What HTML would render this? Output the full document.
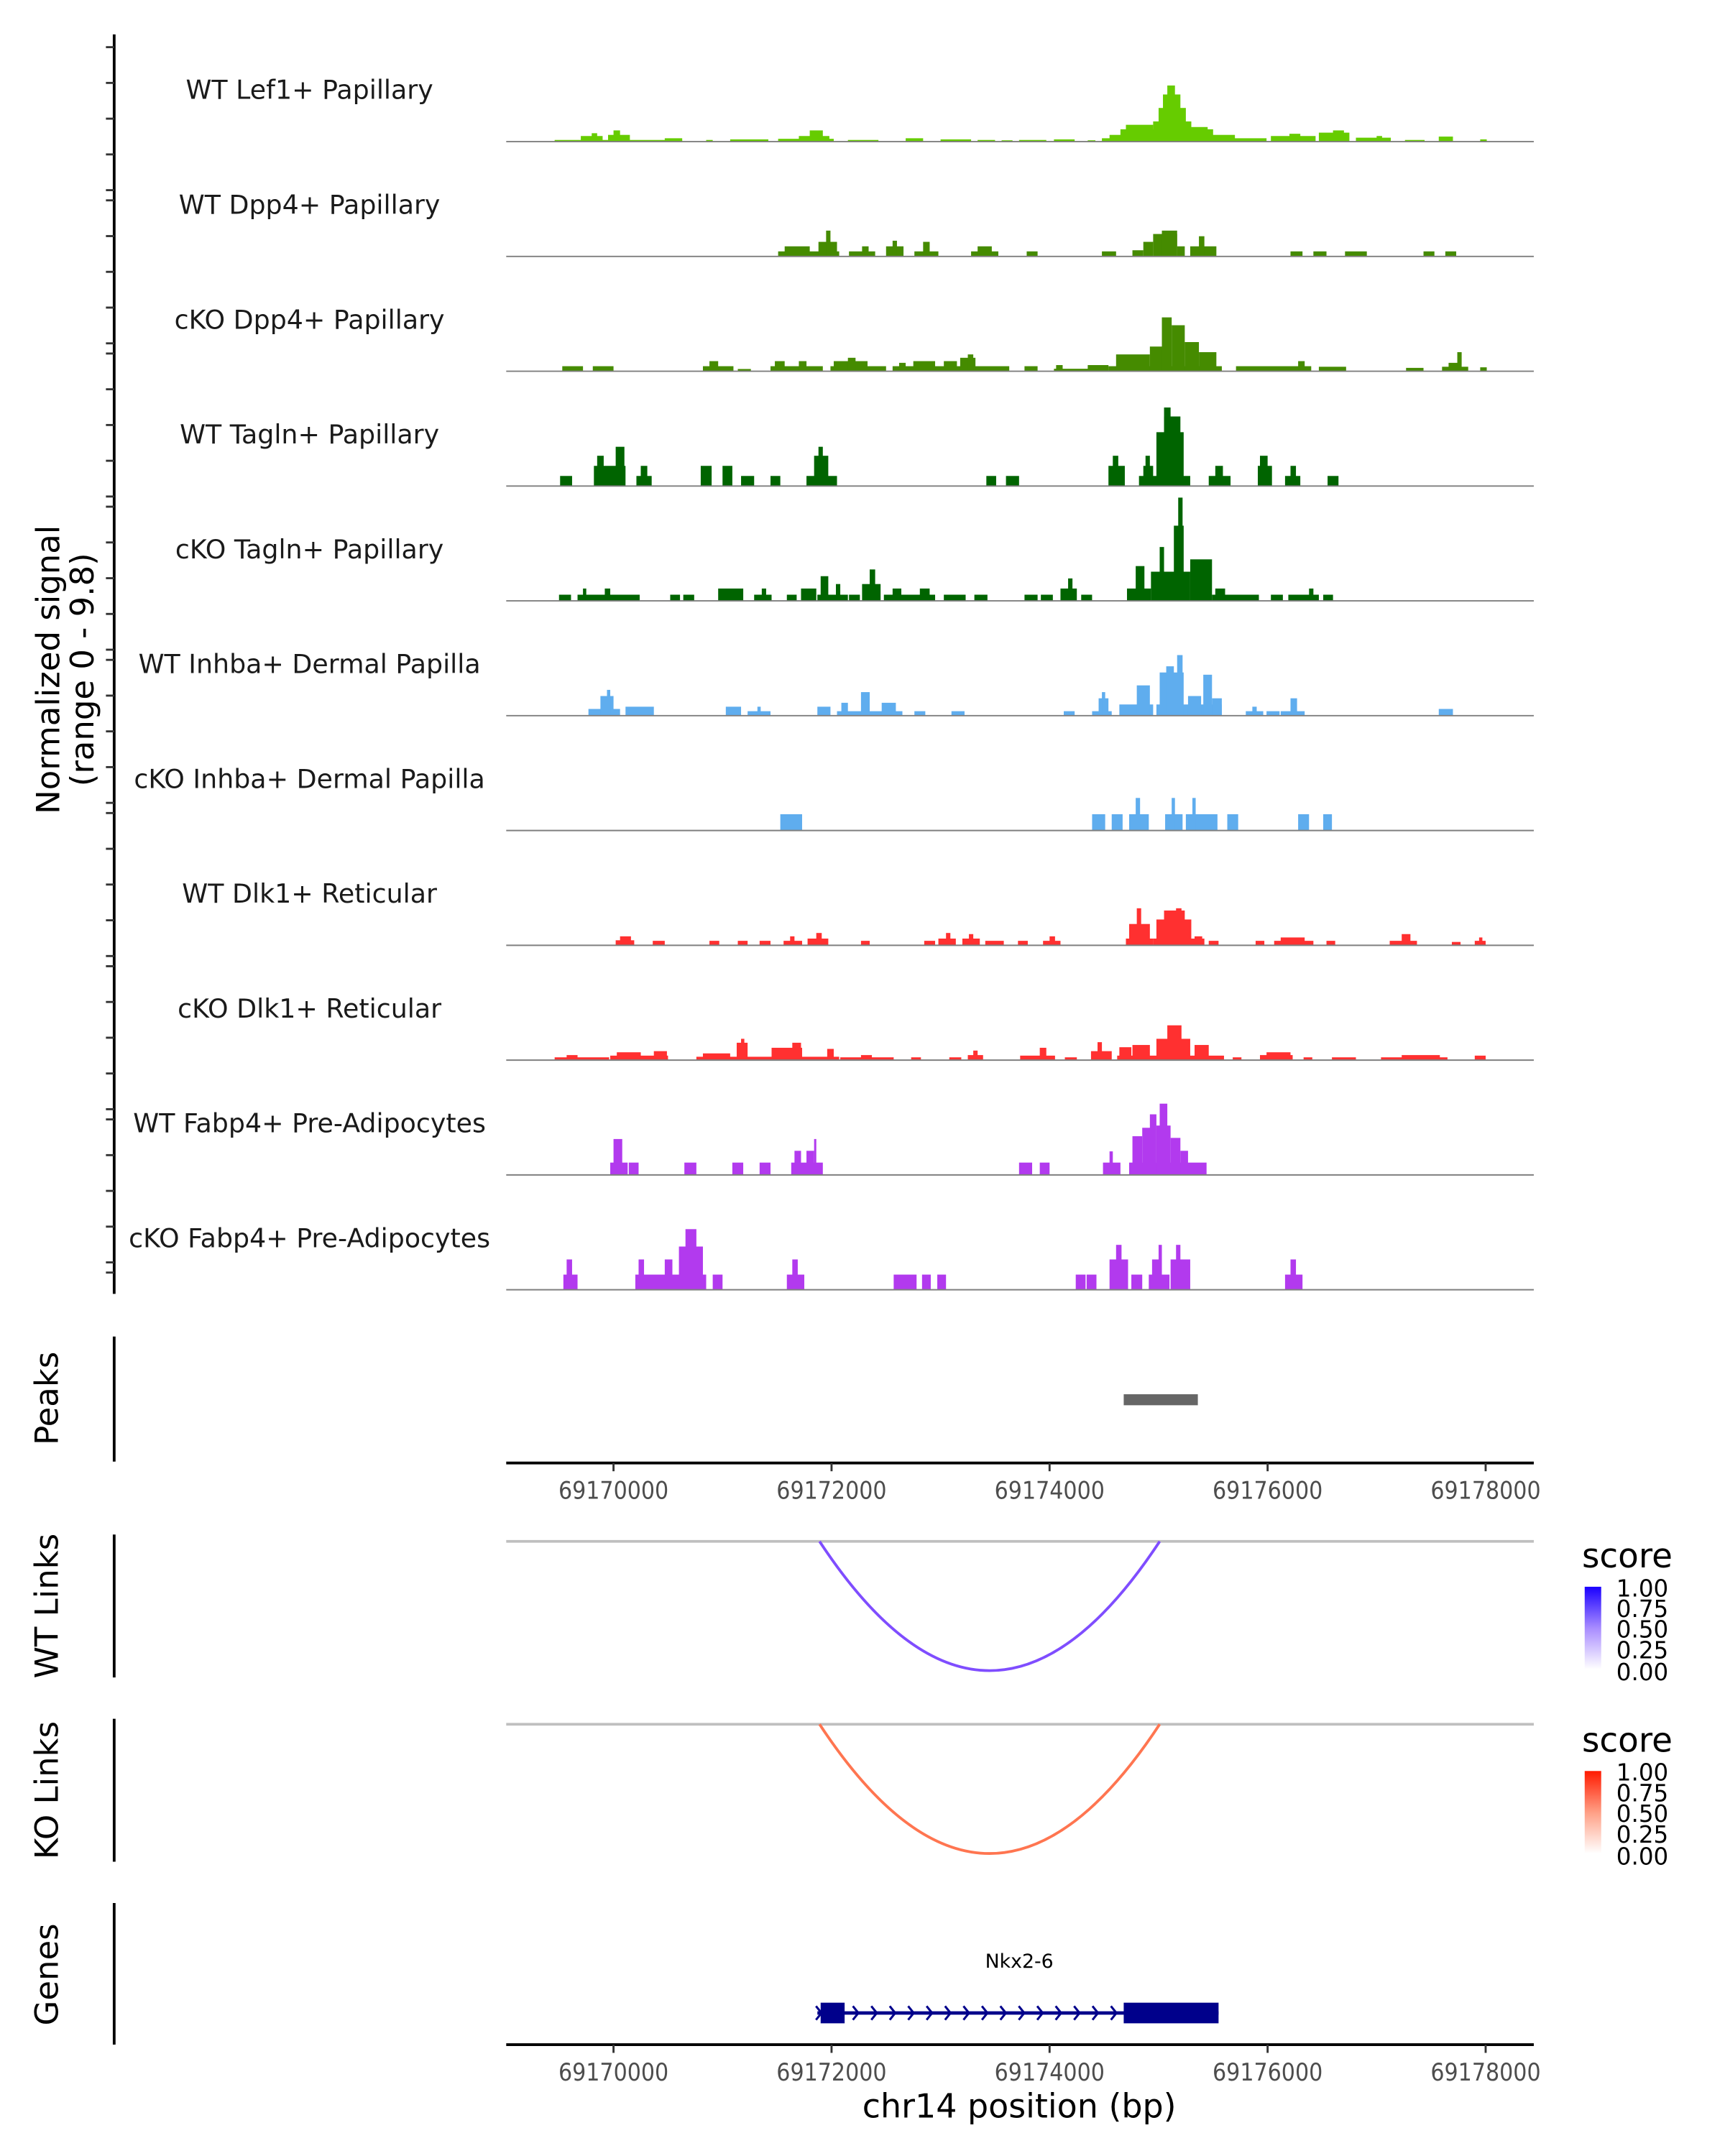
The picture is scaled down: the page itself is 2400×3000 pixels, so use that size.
<!DOCTYPE html>
<html><head><meta charset="utf-8">
<style>
html,body{margin:0;padding:0;background:#fff;}
svg{display:block;}
text{font-family:"DejaVu Sans","Liberation Sans",sans-serif;}
text.tick{font-family:"DejaVu Sans Condensed","DejaVu Sans","Liberation Sans Narrow","Liberation Sans",sans-serif;}
</style></head>
<body>
<svg id="fig" xmlns="http://www.w3.org/2000/svg" width="2400" height="3000" viewBox="0 0 1254 1568" preserveAspectRatio="none">
  <rect x="0" y="0" width="1254" height="1568" fill="#fff"/>
  <g id="tracks"></g>
  <g id="yaxis"></g>
  <text transform="translate(43,487) rotate(-90)" font-size="23.5" text-anchor="middle" fill="#000">Normalized signal</text>
  <text transform="translate(68,487) rotate(-90)" font-size="23.5" text-anchor="middle" fill="#000">(range 0 - 9.8)</text>

  <line x1="83" y1="972" x2="83" y2="1063" stroke="#000" stroke-width="2"/>
  <text transform="translate(42,1017) rotate(-90)" font-size="23.5" text-anchor="middle">Peaks</text>
  <g id="peaks"></g>
  <g id="xaxis1"></g>

  <line x1="83" y1="1116" x2="83" y2="1220" stroke="#000" stroke-width="2"/>
  <text transform="translate(42,1168) rotate(-90)" font-size="23.5" text-anchor="middle">WT Links</text>
  <line x1="368" y1="1121" x2="1115" y2="1121" stroke="#bfbfbf" stroke-width="2"/>
  <g id="wtlinks"></g>

  <line x1="83" y1="1250" x2="83" y2="1354" stroke="#000" stroke-width="2"/>
  <text transform="translate(42,1302) rotate(-90)" font-size="23.5" text-anchor="middle">KO Links</text>
  <line x1="368" y1="1254" x2="1115" y2="1254" stroke="#bfbfbf" stroke-width="2"/>
  <g id="kolinks"></g>

  <defs>
    <linearGradient id="gblue" x1="0" y1="1" x2="0" y2="0">
      <stop offset="0" stop-color="#ffffff"/><stop offset="0.5" stop-color="#a88cff"/><stop offset="1" stop-color="#1a00ff"/>
    </linearGradient>
    <linearGradient id="gred" x1="0" y1="1" x2="0" y2="0">
      <stop offset="0" stop-color="#ffffff"/><stop offset="0.5" stop-color="#ff9f85"/><stop offset="1" stop-color="#ff1a00"/>
    </linearGradient>
  </defs>
  <g>
    <text x="1150" y="1140" font-size="24.5">score</text>
    <rect x="1152" y="1154" width="12" height="60" fill="url(#gblue)"/>
    <g font-size="17"><text x="1175" y="1161">1.00</text><text x="1175" y="1176">0.75</text><text x="1175" y="1191">0.50</text><text x="1175" y="1206">0.25</text><text x="1175" y="1222">0.00</text></g>
  </g>
  <g>
    <text x="1150" y="1274" font-size="24.5">score</text>
    <rect x="1152" y="1288" width="12" height="60" fill="url(#gred)"/>
    <g font-size="17"><text x="1175" y="1295">1.00</text><text x="1175" y="1310">0.75</text><text x="1175" y="1325">0.50</text><text x="1175" y="1340">0.25</text><text x="1175" y="1356">0.00</text></g>
  </g>

  <line x1="83" y1="1384" x2="83" y2="1487" stroke="#000" stroke-width="2"/>
  <text transform="translate(42,1436) rotate(-90)" font-size="23.5" text-anchor="middle">Genes</text>
  <g id="genes"></g>
  <g id="xaxis2"></g>
  <text x="741" y="1540" font-size="24" text-anchor="middle">chr14 position (bp)</text>
</svg>
<script>
const NS="http://www.w3.org/2000/svg";
const ORIGIN=69170000;
const trackNames=["WT Lef1+ Papillary","WT Dpp4+ Papillary","cKO Dpp4+ Papillary","WT Tagln+ Papillary","cKO Tagln+ Papillary","WT Inhba+ Dermal Papilla","cKO Inhba+ Dermal Papilla","WT Dlk1+ Reticular","cKO Dlk1+ Reticular","WT Fabp4+ Pre-Adipocytes","cKO Fabp4+ Pre-Adipocytes"];
const trackColors=["#66cc00","#458b00","#458b00","#006400","#006400","#5fadee","#5fadee","#ff3030","#ff3030","#b23aee","#b23aee"];
const xTicks=[69170000,69172000,69174000,69176000,69178000];
// blocks: [start kb offset from ORIGIN, end kb, signal value]
const wtLef1=[[-0.54,0.63,0.15],[-0.30,-0.10,0.5],[-0.2,-0.15,0.75],[-0.05,0.15,0.6],[0.0,0.06,1.0],[0.47,0.63,0.3],[0.85,0.91,0.15],[1.07,1.42,0.2],[1.51,2.02,0.25],[1.7,1.98,0.5],[1.8,1.92,1.0],[2.15,2.43,0.15],[2.68,2.84,0.3],[3.0,3.28,0.2],[3.34,3.5,0.15],[3.56,3.66,0.12],[3.72,3.97,0.15],[4.04,4.23,0.2],[4.35,4.42,0.12],[4.48,5.99,0.3],[4.55,5.7,0.6],[4.65,5.5,1.1],[4.7,4.95,1.5],[4.95,5.3,1.8],[5.0,5.25,3.0],[5.04,5.2,4.2],[5.08,5.15,5.0],[5.3,5.45,1.3],[6.03,6.44,0.5],[6.2,6.3,0.7],[6.47,6.75,0.8],[6.6,6.7,1.0],[6.81,7.13,0.35],[7.0,7.05,0.5],[7.26,7.44,0.15],[7.57,7.7,0.45],[7.95,8.01,0.2]];
const wtDpp4=[[1.51,2.07,0.45],[1.57,1.80,0.9],[1.88,2.05,1.3],[1.95,1.99,2.3],[2.16,2.40,0.45],[2.28,2.34,0.9],[2.50,2.66,0.9],[2.56,2.60,1.4],[2.76,2.98,0.45],[2.84,2.90,1.3],[3.28,3.53,0.45],[3.34,3.47,0.9],[3.79,3.89,0.45],[4.48,4.61,0.45],[4.76,4.86,0.55],[4.86,4.95,1.3],[4.95,5.17,2.0],[5.03,5.17,2.3],[5.17,5.24,0.9],[5.29,5.53,0.9],[5.37,5.42,1.8],[6.21,6.32,0.45],[6.42,6.54,0.45],[6.71,6.91,0.45],[7.43,7.53,0.45],[7.63,7.73,0.45]];
const ckoDpp4=[[-0.47,-0.28,0.45],[-0.19,0,0.45],[0.82,1.10,0.45],[0.88,0.96,0.9],[1.14,1.26,0.2],[1.44,1.92,0.45],[1.48,1.57,0.9],[1.70,1.77,0.9],[1.99,2.50,0.45],[2.02,2.33,0.9],[2.15,2.22,1.2],[2.56,3.63,0.45],[2.62,2.68,0.75],[2.75,2.95,0.9],[3.03,3.15,0.9],[3.18,3.32,1.2],[3.25,3.30,1.5],[3.77,3.89,0.45],[4.04,4.54,0.22],[4.06,4.12,0.55],[4.35,4.54,0.55],[4.54,5.58,0.45],[4.61,4.92,1.5],[4.92,5.04,2.2],[5.03,5.12,4.8],[5.12,5.24,4.1],[5.24,5.37,2.6],[5.37,5.53,1.7],[5.71,6.40,0.45],[6.28,6.34,0.9],[6.47,6.72,0.4],[7.27,7.43,0.3],[7.60,7.84,0.4],[7.66,7.75,0.75],[7.74,7.78,1.7],[7.95,8.01,0.35]];
const wtTagln=[[-0.49,-0.38,0.9],[-0.18,0.11,1.8],[-0.15,-0.09,2.7],[0.02,0.10,3.5],[0.21,0.35,0.9],[0.25,0.31,1.8],[0.80,0.90,1.8],[1.0,1.09,1.8],[1.17,1.29,0.9],[1.44,1.53,0.9],[1.77,2.05,0.9],[1.84,1.97,2.7],[1.88,1.92,3.5],[3.42,3.51,0.9],[3.60,3.72,0.9],[4.54,4.69,1.8],[4.58,4.63,2.7],[4.82,5.29,0.9],[4.86,4.95,1.8],[4.88,4.92,2.7],[4.98,5.23,4.8],[5.05,5.20,6.2],[5.05,5.11,7.0],[5.46,5.66,0.9],[5.52,5.59,1.8],[5.91,6.04,1.8],[5.93,6.0,2.7],[6.16,6.30,0.9],[6.21,6.26,1.8],[6.55,6.65,0.9]];
const ckoTagln=[[-0.5,-0.39,0.55],[-0.33,0.24,0.55],[-0.28,-0.25,1.1],[-0.08,-0.03,1.1],[0.52,0.61,0.55],[0.64,0.74,0.55],[0.96,1.19,1.1],[1.29,1.45,0.55],[1.36,1.40,1.1],[1.59,1.68,0.55],[1.72,1.86,1.1],[1.87,2.15,0.55],[1.90,1.97,2.2],[2.04,2.08,1.5],[2.16,2.26,0.55],[2.28,2.45,1.5],[2.35,2.40,2.8],[2.48,2.95,0.55],[2.56,2.64,1.1],[2.81,2.90,1.1],[3.03,3.23,0.55],[3.31,3.43,0.55],[3.77,3.89,0.55],[3.92,4.03,0.55],[4.10,4.25,1.1],[4.17,4.21,2.0],[4.29,4.39,0.55],[4.71,4.93,1.1],[4.79,4.87,3.1],[4.93,5.29,2.6],[5.01,5.05,4.8],[5.14,5.23,6.7],[5.18,5.22,9.2],[5.29,5.49,3.7],[5.49,5.92,0.55],[5.52,5.61,1.1],[6.03,6.14,0.55],[6.19,6.47,0.55],[6.38,6.42,1.1],[6.51,6.60,0.55]];
const wtInhba=[[-0.23,0.06,0.6],[-0.12,0.0,1.75],[-0.06,-0.03,2.3],[0.11,0.37,0.8],[1.03,1.17,0.8],[1.23,1.44,0.4],[1.32,1.35,0.8],[1.87,1.99,0.8],[2.05,2.65,0.4],[2.09,2.15,1.15],[2.27,2.35,2.1],[2.46,2.59,1.15],[2.76,2.86,0.4],[3.10,3.22,0.4],[4.13,4.23,0.4],[4.39,4.57,0.4],[4.45,4.54,1.55],[4.48,4.51,2.1],[4.64,4.95,1.0],[4.80,4.92,2.7],[4.98,5.58,1.0],[5.01,5.23,3.85],[5.07,5.14,4.4],[5.17,5.22,5.4],[5.27,5.39,1.75],[5.41,5.49,3.65],[5.49,5.58,1.55],[5.80,5.96,0.4],[5.86,5.90,0.8],[5.99,6.11,0.4],[6.12,6.34,0.4],[6.21,6.27,1.55],[7.57,7.70,0.6]];
const ckoInhba=[[1.53,1.73,1.45],[4.39,4.51,1.45],[4.57,4.67,1.45],[4.73,4.91,1.45],[4.79,4.83,2.9],[5.06,5.22,1.45],[5.12,5.15,2.9],[5.25,5.54,1.45],[5.31,5.34,2.9],[5.63,5.73,1.45],[6.28,6.38,1.45],[6.51,6.59,1.45]];
const wtDlk1=[[0.02,0.19,0.45],[0.06,0.16,0.8],[0.36,0.47,0.4],[0.88,0.97,0.4],[1.14,1.23,0.4],[1.34,1.44,0.4],[1.56,1.73,0.4],[1.62,1.66,0.8],[1.78,1.97,0.6],[1.86,1.91,1.1],[2.27,2.35,0.4],[2.85,2.95,0.4],[2.98,3.14,0.6],[3.05,3.09,1.1],[3.20,3.36,0.6],[3.26,3.30,1.0],[3.41,3.58,0.4],[3.71,3.80,0.4],[3.94,4.10,0.4],[4.0,4.05,0.8],[4.70,4.95,0.6],[4.73,4.92,1.9],[4.80,4.84,3.3],[4.95,5.42,0.6],[4.98,5.30,2.3],[5.05,5.24,3.1],[5.16,5.21,3.3],[5.33,5.40,0.8],[5.46,5.55,0.4],[5.89,5.97,0.4],[6.06,6.42,0.4],[6.12,6.34,0.7],[6.54,6.62,0.4],[7.12,7.37,0.4],[7.23,7.31,1.0],[7.69,7.77,0.3],[7.90,8.0,0.4],[7.94,7.97,0.7]];
const ckoDlk1=[[-0.54,-0.04,0.25],[-0.43,-0.33,0.45],[-0.03,0.50,0.4],[0.03,0.25,0.7],[0.37,0.49,0.8],[0.76,2.07,0.3],[0.82,1.07,0.6],[1.13,1.23,1.55],[1.17,1.20,1.9],[1.45,1.73,1.1],[1.64,1.72,1.55],[1.96,2.02,1.0],[2.08,2.57,0.25],[2.27,2.37,0.45],[2.73,2.82,0.25],[3.08,3.19,0.25],[3.25,3.39,0.45],[3.30,3.34,0.85],[3.73,4.05,0.4],[3.91,3.97,1.1],[4.14,4.25,0.25],[4.38,4.57,0.8],[4.44,4.48,1.6],[4.62,5.29,0.4],[4.64,4.75,1.15],[4.76,4.92,1.35],[4.98,5.29,1.9],[5.08,5.21,3.1],[5.29,5.60,0.4],[5.33,5.46,1.35],[5.68,5.76,0.25],[5.93,6.23,0.45],[5.99,6.21,0.7],[6.33,6.41,0.25],[6.59,6.81,0.25],[7.04,7.65,0.25],[7.23,7.58,0.45],[7.90,8.0,0.4]];
const wtFabp4=[[-0.03,0.13,1.1],[0.0,0.08,3.2],[0.14,0.23,1.1],[0.65,0.76,1.1],[1.09,1.19,1.1],[1.34,1.44,1.1],[1.63,1.92,1.1],[1.66,1.72,2.15],[1.77,1.84,2.15],[1.84,1.86,3.2],[3.72,3.84,1.1],[3.91,4.0,1.1],[4.49,4.65,1.1],[4.55,4.58,2.1],[4.73,5.44,1.1],[4.76,4.85,3.45],[4.85,4.95,4.2],[4.92,4.98,5.4],[4.98,5.11,4.4],[5.01,5.08,6.35],[5.11,5.20,3.3],[5.20,5.27,2.15]];
const ckoFabp4=[[-0.46,-0.33,1.35],[-0.43,-0.38,2.7],[0.20,0.85,1.35],[0.23,0.28,2.7],[0.47,0.54,2.7],[0.60,0.82,3.85],[0.66,0.76,5.4],[0.91,1.0,1.35],[1.59,1.75,1.35],[1.64,1.69,2.7],[2.57,2.78,1.35],[2.83,2.91,1.35],[2.97,3.05,1.35],[4.24,4.33,1.35],[4.34,4.43,1.35],[4.55,4.72,2.7],[4.61,4.66,4.0],[4.75,4.85,1.35],[4.91,5.10,1.35],[4.94,5.02,2.7],[5.0,5.03,4.0],[5.11,5.29,2.7],[5.16,5.20,4.0],[6.16,6.32,1.35],[6.21,6.26,2.7]];
const trackData=[wtLef1,wtDpp4,ckoDpp4,wtTagln,ckoTagln,wtInhba,ckoInhba,wtDlk1,ckoDlk1,wtFabp4,ckoFabp4];
const peakRegions=[[4.68,5.36]];
const wtLinks=[[1.89,5.01,0.75]];
const koLinks=[[1.89,5.01,0.75]];
const geneSpan=[1.87,5.55];
const geneExons=[[1.90,2.12],[4.68,5.55]];

const X0=446, PXKB=79.25, YMAX=9.8, TRACK_H=80;
function xs(kb){return X0+kb*PXKB;}
function xbp(bp){return xs((bp-ORIGIN)/1000);}
function ys(v,base){return base-v/YMAX*TRACK_H;}
function mk(tag,attrs,parent){const e=document.createElementNS(NS,tag);for(const k in attrs)e.setAttribute(k,attrs[k]);parent.appendChild(e);return e;}

const tg=document.getElementById('tracks');
trackNames.forEach((nm,i)=>{
  const base=103+i*83.5;
  const g=mk('g',{},tg);
  
  
  const lab=mk('text',{x:225,y:base-31,'font-size':19,'text-anchor':'middle',fill:'#1a1a1a'},g);
  lab.textContent=nm;
  
  
  trackData[i].forEach(b=>{
    const x1=xs(b[0]),x2=xs(b[1]),y=ys(b[2],base);
    const r=mk('rect',{x:x1.toFixed(2),y:y.toFixed(2),width:(x2-x1).toFixed(2),height:(base-y).toFixed(2),fill:trackColors[i]},g);
    
    
  });
  const bl=mk('line',{x1:368,x2:1115,y1:base,y2:base,stroke:'#7f7f7f','stroke-width':1},g);
  
  
});

const ya=document.getElementById('yaxis');
mk('line',{x1:83,x2:83,y1:25,y2:941,stroke:'#000','stroke-width':2},ya);
for(let g0=34.3; g0<941; g0+=111.4){
  for(let k=0;k<5;k++){
    const y=g0+k*26; if(y>941) break;
    const t=mk('line',{x1:77,x2:83,y1:y,y2:y,stroke:'#333','stroke-width':1.5},ya);
    
    
  }
}

const pg=document.getElementById('peaks');
peakRegions.forEach(p=>{
  const r=mk('rect',{x:xs(p[0]),y:1014,width:xs(p[1])-xs(p[0]),height:8,fill:'#666'},pg);
  
  
});

function xaxis(id,y){
  const g=document.getElementById(id);
  mk('line',{x1:368,x2:1115,y1:y,y2:y,stroke:'#000','stroke-width':2},g);
  xTicks.forEach(t=>{
    const x=xbp(t);
    const tk=mk('line',{x1:x,x2:x,y1:y,y2:y+6,stroke:'#333','stroke-width':1.5},g);
    
    
    const tl=mk('text',{x:x,y:y+26,'font-size':17.5,'text-anchor':'middle',fill:'#4d4d4d','class':'tick'},g);
    tl.textContent=String(t);
    
    
  });
}
xaxis('xaxis1',1064);
xaxis('xaxis2',1487);

function links(id,data,base,color){
  const g=document.getElementById(id);
  data.forEach(l=>{
    const x1=xs(l[0]),x2=xs(l[1]),depth=94;
    const p=mk('path',{d:`M${x1},${base} Q${(x1+x2)/2},${base+2*depth} ${x2},${base}`,fill:'none',stroke:color,'stroke-width':2},g);
    
    
  });
}
links('wtlinks',wtLinks,1121,'#7f4dff');
links('kolinks',koLinks,1254,'#ff7550');

const gg=document.getElementById('genes');
const gy=1464;
const gl=mk('line',{x1:xs(geneSpan[0]),x2:xs(geneSpan[1]),y1:gy,y2:gy,stroke:'#00008b','stroke-width':2.5},gg);


for(let x=xs(geneSpan[0])+1; x<xs(geneExons[1][0]); x+=13.4){
  const a=mk('path',{d:`M${x-2},${gy-5} L${x+2},${gy} L${x-2},${gy+5}`,fill:'none',stroke:'#00008b','stroke-width':1.6},gg);
  
  
}
geneExons.forEach(e=>{
  const r=mk('rect',{x:xs(e[0]),y:gy-7.5,width:xs(e[1])-xs(e[0]),height:15,fill:'#00008b'},gg);
  
  
});
const gn=mk('text',{x:741,y:1431,'font-size':14,'text-anchor':'middle'},gg);
gn.textContent='Nkx2-6';


</script>
</body></html>
